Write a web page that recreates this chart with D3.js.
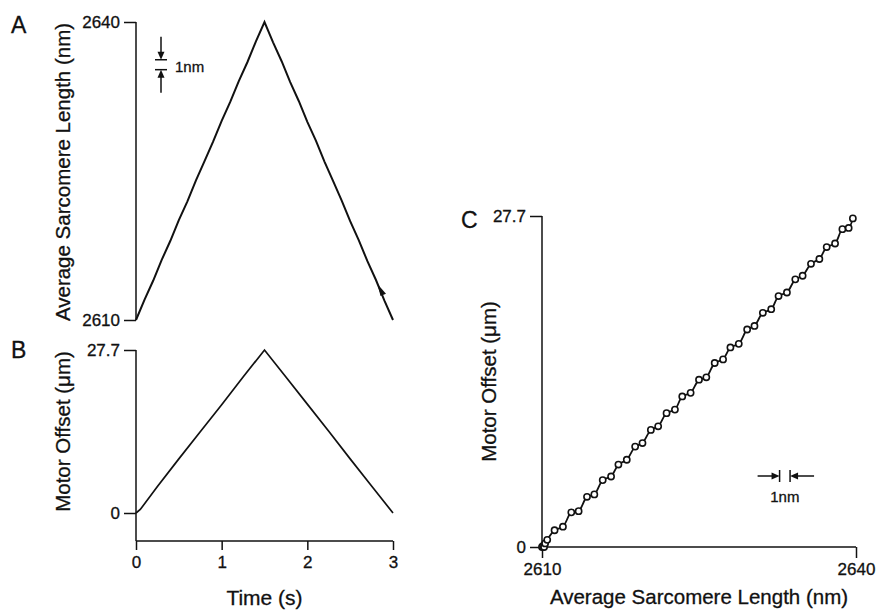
<!DOCTYPE html>
<html>
<head>
<meta charset="utf-8">
<script src="https://cdn.jsdelivr.net/npm/d3@7"></script>
<style>
  body { margin: 0; background: #fff; }
  text { font-family: "Liberation Sans", Arial, sans-serif; fill: #111; stroke: #111; stroke-width: 0.3px; }
</style>
</head>
<body>
<div id="chart"></div>
<script>
// Panneau A : longueur moyenne du sarcomère en fonction du temps
const timeA = [0, 0.1, 0.2, 0.3, 0.4, 0.5, 0.6, 0.7, 0.8, 0.9, 1.0, 1.1, 1.2, 1.3, 1.4, 1.5,
               1.6, 1.7, 1.8, 1.9, 2.0, 2.1, 2.2, 2.3, 2.4, 2.5, 2.6, 2.7, 2.8, 2.9, 3.0];
const lengthA = [2610.0, 2612.05, 2613.95, 2616.05, 2617.95, 2620.05, 2621.95, 2624.05, 2626.0, 2627.95,
                 2630.05, 2631.95, 2634.05, 2635.95, 2638.05, 2640.0,
                 2637.95, 2636.05, 2633.95, 2632.05, 2629.95, 2628.05, 2625.95, 2624.0, 2622.05, 2619.95,
                 2618.05, 2615.95, 2614.05, 2611.95, 2610.0];

// Panneau B : décalage du moteur en fonction du temps
const timeB = [0, 0.05, 0.25, 0.5, 0.75, 1.0, 1.25, 1.5, 1.75, 2.0, 2.25, 2.5, 2.75, 3.0];
const offsetB = [0, 0.6, 4.5, 9.2, 13.8, 18.4, 23.1, 27.7, 23.1, 18.5, 13.9, 9.2, 4.6, 0];

// Panneau C : décalage du moteur en fonction de la longueur du sarcomère
const lengthC = [2610.0, 2610.1, 2610.2, 2610.3, 2610.5, 2611.2, 2612.0, 2612.8, 2613.5, 2614.3,
                 2615.0, 2615.8, 2616.6, 2617.3, 2618.1, 2618.9, 2619.6, 2620.4, 2621.1, 2621.9,
                 2622.7, 2623.4, 2624.2, 2625.0, 2625.7, 2626.5, 2627.3, 2628.0, 2628.8, 2629.6,
                 2630.3, 2631.1, 2631.9, 2632.6, 2633.4, 2634.2, 2634.9, 2635.7, 2636.5, 2637.2,
                 2638.0, 2638.7, 2639.3, 2639.7];
const offsetC = [0.0, 0.1, 0.0, 0.3, 0.6, 1.4, 1.7, 2.9, 3.0, 4.2,
                 4.4, 5.6, 5.9, 6.9, 7.3, 8.4, 8.7, 9.8, 10.1, 11.2,
                 11.5, 12.6, 12.9, 14.0, 14.2, 15.4, 15.7, 16.7, 17.0, 18.2,
                 18.5, 19.6, 19.9, 21.0, 21.3, 22.4, 22.7, 23.7, 24.1, 25.1,
                 25.4, 26.6, 26.7, 27.5];

// Graduations
const timeTicks = [0, 1, 2, 3];
const lengthTicks = [2610, 2640];
const offsetTicks = [0, 27.7];

const width = 876, height = 612;
const svg = d3.select("#chart").append("svg")
    .attr("width", width)
    .attr("height", height);

// Échelles
const xTime = d3.scaleLinear().domain([0, 3]).range([136, 393]);
const yLenA = d3.scaleLinear().domain([2610, 2640]).range([320, 22]);
const yOffB = d3.scaleLinear().domain([0, 27.7]).range([513, 350]);
const xLenC = d3.scaleLinear().domain([2610, 2640]).range([542, 856]);
const yOffC = d3.scaleLinear().domain([0, 27.7]).range([547, 216]);

const fmtTick = d => d === 27.7 ? "27.7" : d3.format("d")(d);

function styleAxis(g) {
    g.select(".domain").remove();
    g.selectAll(".tick line").attr("stroke", "#111").attr("stroke-width", 1.5);
    g.selectAll(".tick text")
        .attr("font-size", "17px")
        .attr("fill", "#111")
        .style("font-family", "'Liberation Sans', Arial, sans-serif");
}

function vline(x, y1, y2) {
    svg.append("line").attr("x1", x).attr("x2", x).attr("y1", y1).attr("y2", y2)
        .attr("stroke", "#111").attr("stroke-width", 1.5);
}
function hline(y, x1, x2) {
    svg.append("line").attr("x1", x1).attr("x2", x2).attr("y1", y).attr("y2", y)
        .attr("stroke", "#111").attr("stroke-width", 1.5);
}

// ---------- Panneau A ----------
vline(xTime(0), yLenA(2640), yLenA(2610));
svg.append("g")
    .attr("transform", `translate(${xTime(0)},0)`)
    .call(d3.axisLeft(yLenA).tickValues(lengthTicks).tickSize(12).tickPadding(4).tickFormat(fmtTick))
    .call(styleAxis);

svg.append("path")
    .datum(timeA.map((t, i) => [t, lengthA[i]]))
    .attr("fill", "none")
    .attr("stroke", "#111")
    .attr("stroke-width", 2)
    .attr("d", d3.line().x(d => xTime(d[0])).y(d => yLenA(d[1])));

// petite flèche sur la descente (pointe vers le haut)
{
    const p = [xTime(2.82), yLenA(2613.6)];
    const ang = Math.atan2(yLenA(2610) - yLenA(2640), xTime(3) - xTime(1.5)) * 180 / Math.PI;
    svg.append("path")
        .attr("d", "M0,0 L12,-4 L12,2 Z")
        .attr("fill", "#111")
        .attr("transform", `translate(${p[0]},${p[1]}) rotate(${ang})`);
}

svg.append("text").attr("x", 11).attr("y", 33).attr("font-size", "23px").text("A");
svg.append("text")
    .attr("transform", `translate(70,${(yLenA(2640) + yLenA(2610)) / 2 + 1}) rotate(-90)`)
    .attr("text-anchor", "middle")
    .attr("font-size", "20.5px")
    .text("Average Sarcomere Length (nm)");

// barre d'échelle 1 nm (verticale)
{
    const sx = 161, yTop = yLenA(2636.2), yBot = yLenA(2635.2);
    hline(yTop, sx - 6, sx + 6);
    hline(yBot, sx - 6, sx + 6);
    vline(sx, yTop - 23, yTop - 3);
    vline(sx, yBot + 3, yBot + 23);
    svg.append("path").attr("d", `M${sx - 3.5},${yTop - 8} L${sx + 3.5},${yTop - 8} L${sx},${yTop} Z`).attr("fill", "#111");
    svg.append("path").attr("d", `M${sx - 3.5},${yBot + 8} L${sx + 3.5},${yBot + 8} L${sx},${yBot} Z`).attr("fill", "#111");
    svg.append("text").attr("x", 175).attr("y", 72).attr("font-size", "15px").text("1nm");
}

// ---------- Panneau B ----------
vline(xTime(0), yOffB(27.7), 541);
hline(541, xTime(0), xTime(3));
svg.append("g")
    .attr("transform", `translate(${xTime(0)},0)`)
    .call(d3.axisLeft(yOffB).tickValues(offsetTicks).tickSize(12).tickPadding(4).tickFormat(fmtTick))
    .call(styleAxis);
svg.append("g")
    .attr("transform", "translate(0,541)")
    .call(d3.axisBottom(xTime).tickValues(timeTicks).tickSize(9).tickPadding(6).tickFormat(d3.format("d")))
    .call(styleAxis);

svg.append("path")
    .datum(timeB.map((t, i) => [t, offsetB[i]]))
    .attr("fill", "none")
    .attr("stroke", "#111")
    .attr("stroke-width", 1.7)
    .attr("d", d3.line().x(d => xTime(d[0])).y(d => yOffB(d[1])));

svg.append("text").attr("x", 11).attr("y", 358).attr("font-size", "23px").text("B");
svg.append("text")
    .attr("transform", `translate(70,${(yOffB(27.7) + yOffB(0)) / 2}) rotate(-90)`)
    .attr("text-anchor", "middle")
    .attr("font-size", "20.5px")
    .text("Motor Offset (μm)");
svg.append("text")
    .attr("x", (xTime(0) + xTime(3)) / 2)
    .attr("y", 605)
    .attr("text-anchor", "middle")
    .attr("font-size", "21px")
    .text("Time (s)");

// ---------- Panneau C ----------
vline(xLenC(2610), yOffC(27.7), yOffC(0));
hline(yOffC(0), xLenC(2610), xLenC(2640));
svg.append("g")
    .attr("transform", `translate(${xLenC(2610)},0)`)
    .call(d3.axisLeft(yOffC).tickValues(offsetTicks).tickSize(12).tickPadding(4).tickFormat(fmtTick))
    .call(styleAxis);
svg.append("g")
    .attr("transform", `translate(0,${yOffC(0)})`)
    .call(d3.axisBottom(xLenC).tickValues(lengthTicks).tickSize(11).tickPadding(5).tickFormat(d3.format("d")))
    .call(styleAxis);

const ptsC = lengthC.map((l, i) => [l, offsetC[i]]);
svg.append("path")
    .datum(ptsC)
    .attr("fill", "none")
    .attr("stroke", "#111")
    .attr("stroke-width", 1.8)
    .attr("d", d3.line().curve(d3.curveCatmullRom).x(d => xLenC(d[0])).y(d => yOffC(d[1])));
svg.selectAll("circle.c")
    .data(ptsC)
    .join("circle")
    .attr("class", "c")
    .attr("cx", d => xLenC(d[0]))
    .attr("cy", d => yOffC(d[1]))
    .attr("r", 3.1)
    .attr("fill", "#fff")
    .attr("stroke", "#111")
    .attr("stroke-width", 1.6);

svg.append("text").attr("x", 461).attr("y", 228).attr("font-size", "23px").text("C");
svg.append("text")
    .attr("transform", `translate(496,${(yOffC(27.7) + yOffC(0)) / 2}) rotate(-90)`)
    .attr("text-anchor", "middle")
    .attr("font-size", "20.5px")
    .text("Motor Offset (μm)");
svg.append("text")
    .attr("x", (xLenC(2610) + xLenC(2640)) / 2)
    .attr("y", 604)
    .attr("text-anchor", "middle")
    .attr("font-size", "20.5px")
    .text("Average Sarcomere Length (nm)");

// barre d'échelle 1 nm (horizontale)
{
    const sy = 476, xL = xLenC(2632.7), xR = xLenC(2633.7);
    vline(xL, sy - 6, sy + 6);
    vline(xR, sy - 6, sy + 6);
    hline(sy, xL - 22, xL - 3);
    hline(sy, xR + 3, xR + 24);
    svg.append("path").attr("d", `M${xL - 8},${sy - 3.5} L${xL - 8},${sy + 3.5} L${xL},${sy} Z`).attr("fill", "#111");
    svg.append("path").attr("d", `M${xR + 8},${sy - 3.5} L${xR + 8},${sy + 3.5} L${xR},${sy} Z`).attr("fill", "#111");
    svg.append("text").attr("x", (xL + xR) / 2).attr("y", 502).attr("text-anchor", "middle")
        .attr("font-size", "15px").text("1nm");
}
</script>
</body>
</html>
